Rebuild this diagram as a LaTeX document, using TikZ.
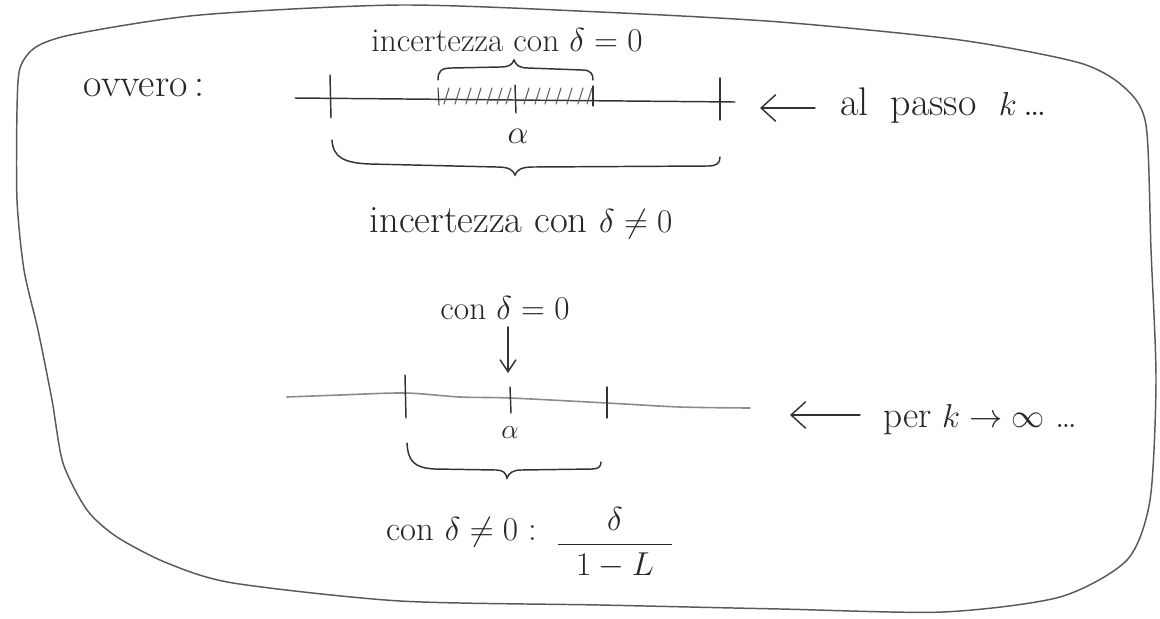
\documentclass[tikz,border=0pt]{standalone}
\usetikzlibrary{arrows.meta}
\begin{document}
\begin{tikzpicture}[x=0.75pt,y=-0.75pt,
  ink/.style={draw=black!80,line width=1.1pt,line cap=round},
  pale/.style={draw=black!45,line width=1.2pt,line cap=round},
  frame/.style={draw=black!65,line width=1.1pt},
  hatch/.style={draw=black!62,line width=0.8pt,line cap=round},
  lbl/.style={inner sep=0pt,text=black!85},
  tip/.style={-{Straight Barb[length=11pt,width=20pt]}},
  smalltip/.style={-{Straight Barb[length=9pt,width=12pt]}}]
\useasboundingbox (0,0) rectangle (1160,618);
% outer frame
\draw[frame] plot[smooth cycle,tension=0.45] coordinates {
 (17,200) (17,110) (20,68) (36,47) (75,34) (200,15) (400,5)
 (600,12) (780,22) (960,40) (1080,63) (1125,88) (1146,125) (1151,250)
 (1156,380) (1150,500) (1127,560) (1060,597) (943,612) (780,609)
 (600,605) (400,601) (233,583) (167,563) (117,537) (87,510) (63,463)
 (52,400) (38,330) (24,270)};
% ---- upper scheme ----
\node[lbl,font=\fontsize{30}{34}\selectfont] (ovvero) at (144,88) {ovvero\,:};
\coordinate (l1a) at (295,98);
\coordinate (l1b) at (735,102);
\draw[ink] (l1a) -- (l1b);
\draw[ink] (330,75) -- (331,118);
\draw[ink] (515,85) -- (516,113);
\draw[ink] (720,78) -- (720,120);
% hatched region
\draw[ink,line width=0.8pt] (438,88) -- (439,105);
\draw[ink,line width=0.8pt] (593,86) -- (593,106);
\foreach \x in {444,455,466,476,487,497,506,524,535,545,556,567,578,587}
  \draw[hatch] (\x,104) -- (\x+5,88);
% top brace (pointing up)
\draw[ink] (438,80) .. controls (438,71) and (441,68) .. (452,68) -- (500,67)
  .. controls (509,67) and (512,65) .. (514,60)
  .. controls (516,65) and (519,68) .. (528,68) -- (582,70)
  .. controls (591,70) and (593,74) .. (593,80);
\node[lbl,font=\fontsize{25}{30}\selectfont] (inc0) at (507,40) {incertezza con $\delta=0$};
\node[lbl,font=\fontsize{27}{30}\selectfont] (alpha1) at (518,136) {$\alpha$};
% lower brace
\draw[ink] (332,140) .. controls (333,158) and (345,163) .. (370,164) -- (497,167)
  .. controls (509,167) and (513,170) .. (515,175)
  .. controls (517,170) and (521,167) .. (533,167) -- (708,166)
  .. controls (717,166) and (720,163) .. (720,157);
\node[lbl,font=\fontsize{29}{32}\selectfont] (inc1) at (521,223) {incertezza con $\delta\neq 0$};
\node[lbl,anchor=west,font=\fontsize{30}{34}\selectfont] (passo) at (840,106) {al\;\;passo\;\;$k$\,\dots};
\coordinate (a1) at (815,108);
\coordinate (a1e) at (760,108);
\draw[ink,tip] (a1) -- (a1e);
% ---- lower scheme ----
\node[lbl,font=\fontsize{25}{30}\selectfont] (con0) at (505,308) {con $\delta=0$};
\coordinate (d0) at (508,327);
\coordinate (d1) at (508,373);
\draw[ink,smalltip] (d0) -- (d1);
\draw[pale] plot[smooth,tension=0.5] coordinates {(287,397) (340,395) (405,393) (460,397) (510,398) (607,403) (680,407) (750,408)};
\draw[ink] (405,375) -- (406,418);
\draw[ink] (510,387) -- (511,413);
\draw[ink] (607,387) -- (607,418);
\node[lbl,font=\fontsize{20}{24}\selectfont] (alpha2) at (510,433) {$\alpha$};
\draw[ink] (407,443) .. controls (408,462) and (415,468) .. (435,469) -- (496,470)
  .. controls (503,470) and (506,473) .. (507,478)
  .. controls (509,473) and (513,470) .. (521,470) -- (592,469)
  .. controls (598,469) and (601,467) .. (601,462);
\node[lbl,anchor=west,font=\fontsize{28}{32}\selectfont] (perk) at (883,420) {per\;$k\to\infty$\;\dots};
\coordinate (a2) at (860,415);
\coordinate (a2e) at (790,415);
\draw[ink,tip] (a2) -- (a2e);
\node[lbl,font=\fontsize{26}{30}\selectfont] (con1) at (462,532) {con $\delta\neq 0$ :};
\node[lbl,font=\fontsize{24}{28}\selectfont] (frac) at (615,543) {$\displaystyle\frac{\delta}{\;\;1-L\;\;}$};
\end{tikzpicture}
\end{document}
